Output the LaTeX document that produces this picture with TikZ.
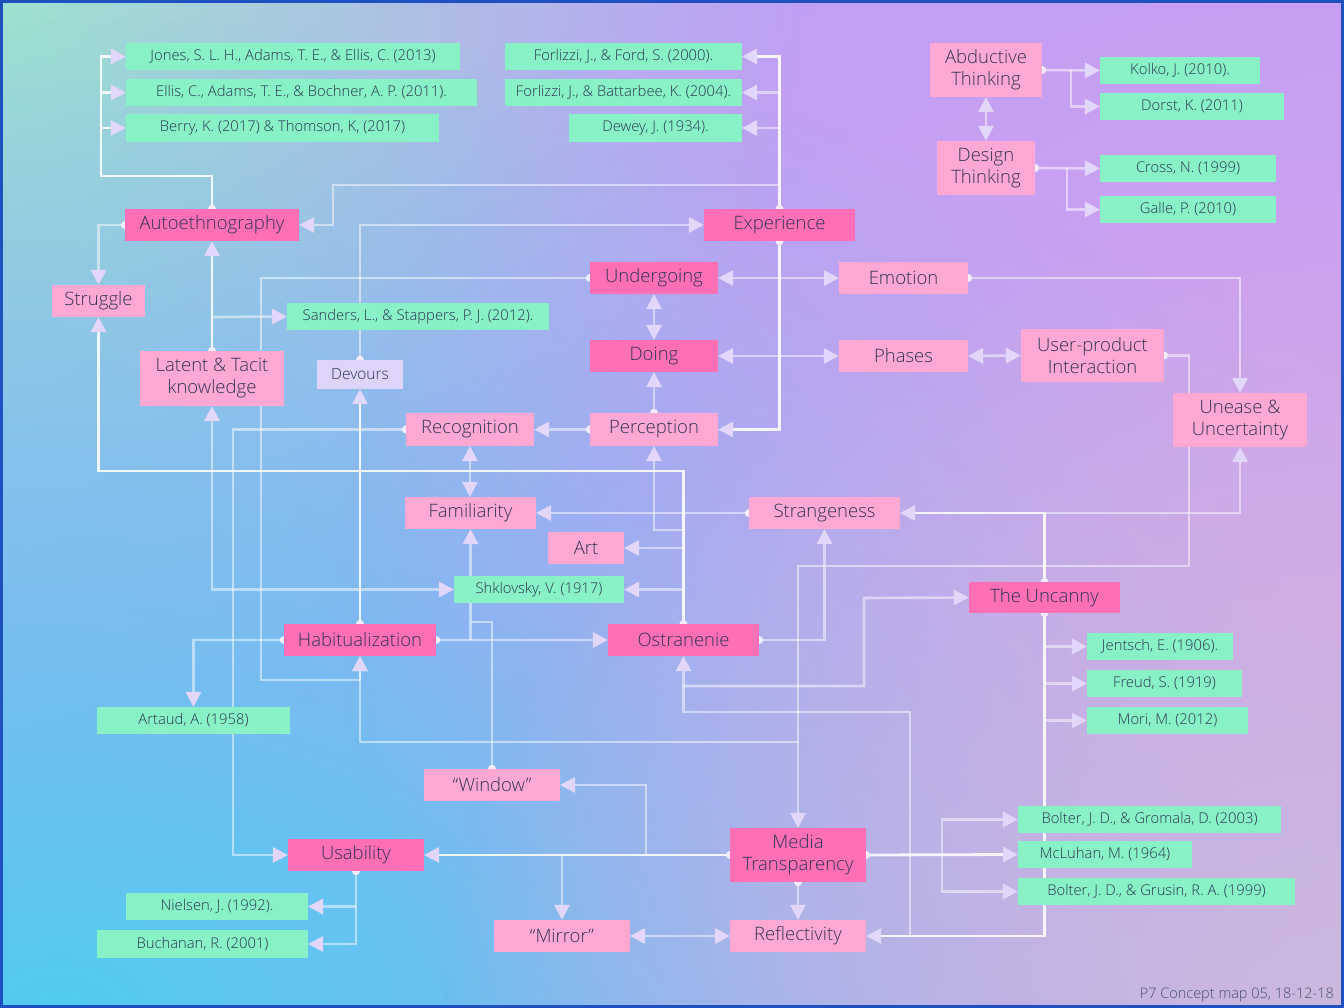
\documentclass[tikz,border=0pt]{standalone}
\usepackage{fontspec}
\setmainfont{Open Sans}[UprightFont=* Light]
\usetikzlibrary{arrows.meta,fadings}
\definecolor{hotp}{HTML}{FF6FB6}
\definecolor{litep}{HTML}{FFA8D4}
\definecolor{refg}{HTML}{88F2C6}
\definecolor{lavb}{HTML}{DED4FA}
\definecolor{txt}{HTML}{2A3552}
\definecolor{tipc}{HTML}{E2D6FA}
\definecolor{dotc}{HTML}{F2ECFF}
\definecolor{basec}{HTML}{BC9FF7}
\definecolor{mintc}{HTML}{9EE2D0}
\definecolor{cyanc}{HTML}{52CBF0}
\definecolor{pinkc}{HTML}{DCA2E8}
\definecolor{brc}{HTML}{CDB8DE}
\definecolor{bordc}{HTML}{1E50C0}
\definecolor{footc}{HTML}{45506A}
\pgfdeclarelayer{bg}\pgfdeclarelayer{edges}\pgfsetlayers{bg,edges,main}
\tikzfading[name=blob, inner color=transparent!0, outer color=transparent!100]
\begin{document}
\begin{tikzpicture}[x=1pt,y=-1pt,
  box/.style={rectangle, inner sep=0pt, text=txt, align=center},
  hot/.style={box, fill=hotp, font=\fontsize{18.5}{22}\selectfont},
  lite/.style={box, fill=litep, font=\fontsize{18.5}{22}\selectfont},
  ref/.style={box, fill=refg, font=\fontsize{14.8}{17}\selectfont},
  ln/.style={draw=white, line width=2.6pt, draw opacity=0.5, fill opacity=1},
  lnb/.style={draw=white, line width=2.8pt, draw opacity=0.88, fill opacity=1},
  tp/.style={-{Triangle[length=15pt,width=16pt,line width=0pt,color=tipc]}},
  dt/.style={{Circle[length=8pt,line width=0pt,color=dotc]}-{Triangle[length=15pt,width=16pt,line width=0pt,color=tipc]}, shorten <=-4pt},
  dn/.style={{Circle[length=8pt,line width=0pt,color=dotc]}-, shorten <=-4pt},
  dd/.style={{Triangle[length=15pt,width=16pt,line width=0pt,color=tipc]}-{Triangle[length=15pt,width=16pt,line width=0pt,color=tipc]}}
]
\useasboundingbox (0,0) rectangle (1344,1008);
\begin{pgfonlayer}{bg}
\fill[basec] (0,0) rectangle (1344,1008);
\begin{scope}
\clip (0,0) rectangle (1344,1008);
\fill[mintc, path fading=blob] (0,0) ellipse [x radius=800, y radius=760];
\fill[cyanc, path fading=blob] (60,1008) ellipse [x radius=1700, y radius=1000];
\fill[pinkc, path fading=blob, fill opacity=0.8] (1344,600) ellipse [x radius=1000, y radius=900];
\fill[brc, path fading=blob] (1344,1008) ellipse [x radius=900, y radius=800];
\end{scope}
\draw[bordc, line width=3pt] (1.5,1.5) rectangle (1342.5,1006.5);
\end{pgfonlayer}

% nodes
\node[ref, minimum width=334pt, minimum height=27pt] (jones) at (293,56.5) {Jones, S. L. H., Adams, T. E., \& Ellis, C. (2013)};
\node[ref, minimum width=351pt, minimum height=27pt] (ellis) at (301.5,92.5) {Ellis, C., Adams, T. E., \& Bochner, A. P. (2011).};
\node[ref, minimum width=313pt, minimum height=28pt] (berry) at (282.5,128) {Berry, K. (2017) \& Thomson, K, (2017)};
\node[hot, minimum width=174pt, minimum height=32pt] (auto) at (212,225) {Autoethnography};
\node[lite, minimum width=93pt, minimum height=32pt] (strug) at (98.5,301) {Struggle};
\node[lite, minimum width=144pt, minimum height=55pt] (latent) at (212,378.5) {Latent \& Tacit\\knowledge};
\node[ref, minimum width=262pt, minimum height=27pt] (sanders) at (418,316.5) {Sanders, L., \& Stappers, P. J. (2012).};
\node[box, fill=lavb, font=\fontsize{15.5}{18}\selectfont, minimum width=86pt, minimum height=29pt] (devours) at (360,374.5) {Devours};
\node[ref, minimum width=237pt, minimum height=27pt] (ford) at (623.5,56.5) {Forlizzi, J., \& Ford, S. (2000).};
\node[ref, minimum width=237pt, minimum height=27pt] (batt) at (623.5,92.5) {Forlizzi, J., \& Battarbee, K. (2004).};
\node[ref, minimum width=173pt, minimum height=28pt] (dewey) at (655.5,128) {Dewey, J. (1934).};
\node[hot, minimum width=151pt, minimum height=32pt] (exp) at (779.5,225) {Experience};
\node[hot, minimum width=128pt, minimum height=32pt] (under) at (654,278) {Undergoing};
\node[lite, minimum width=129pt, minimum height=32pt] (emot) at (903.5,278) {Emotion};
\node[hot, minimum width=128pt, minimum height=32pt] (doing) at (654,356) {Doing};
\node[lite, minimum width=129pt, minimum height=32pt] (phases) at (903.5,356) {Phases};
\node[lite, minimum width=143pt, minimum height=53pt] (upi) at (1092.5,355.5) {User-product\\Interaction};
\node[lite, minimum width=134pt, minimum height=54pt] (unease) at (1240,420) {Unease \&\\Uncertainty};
\node[lite, minimum width=112pt, minimum height=54pt] (abd) at (986,70) {Abductive\\Thinking};
\node[lite, minimum width=98pt, minimum height=54pt] (design) at (986,168) {Design\\Thinking};
\node[ref, minimum width=160pt, minimum height=27pt] (kolko) at (1180,70.5) {Kolko, J. (2010).};
\node[ref, minimum width=184pt, minimum height=27pt] (dorst) at (1192,106.5) {Dorst, K. (2011)};
\node[ref, minimum width=176pt, minimum height=27pt] (cross) at (1188,168.5) {Cross, N. (1999)};
\node[ref, minimum width=176pt, minimum height=27pt] (galle) at (1188,209.5) {Galle, P. (2010)};
\node[lite, minimum width=128pt, minimum height=33pt] (recog) at (470,429.5) {Recognition};
\node[lite, minimum width=128pt, minimum height=33pt] (perc) at (654,429.5) {Perception};
\node[lite, minimum width=131pt, minimum height=32pt] (famil) at (470.5,513) {Familiarity};
\node[lite, minimum width=151pt, minimum height=32pt] (strange) at (824.5,513) {Strangeness};
\node[lite, minimum width=76pt, minimum height=32pt] (art) at (586,548) {Art};
\node[ref, minimum width=170pt, minimum height=27pt] (shk) at (539,589.5) {Shklovsky, V. (1917)};
\node[hot, minimum width=152pt, minimum height=32pt] (hab) at (360,640) {Habitualization};
\node[hot, minimum width=151pt, minimum height=32pt] (ostr) at (683.5,640) {Ostranenie};
\node[hot, minimum width=151pt, minimum height=31pt] (unc) at (1044.5,597.5) {The Uncanny};
\node[ref, minimum width=146pt, minimum height=27pt] (jent) at (1160,646.5) {Jentsch, E. (1906).};
\node[ref, minimum width=155pt, minimum height=27pt] (freud) at (1164.5,683.5) {Freud, S. (1919)};
\node[ref, minimum width=161pt, minimum height=27pt] (mori) at (1167.5,720.5) {Mori, M. (2012)};
\node[ref, minimum width=193pt, minimum height=27pt] (artaud) at (193.5,720.5) {Artaud, A. (1958)};
\node[lite, minimum width=136pt, minimum height=32pt] (window) at (492,785) {“Window”};
\node[hot, minimum width=136pt, minimum height=32pt] (usab) at (356,855) {Usability};
\node[hot, minimum width=136pt, minimum height=54pt] (mt) at (798,855) {Media\\Transparency};
\node[ref, minimum width=182pt, minimum height=27pt] (nielsen) at (217,906.5) {Nielsen, J. (1992).};
\node[ref, minimum width=211pt, minimum height=28pt] (buch) at (202.5,944) {Buchanan, R. (2001)};
\node[lite, minimum width=136pt, minimum height=32pt] (mirror) at (562,936) {“Mirror”};
\node[lite, minimum width=136pt, minimum height=32pt] (refl) at (798,936) {Reflectivity};
\node[ref, minimum width=263pt, minimum height=27pt] (bgrom) at (1149.5,819.5) {Bolter, J. D., \& Gromala, D. (2003)};
\node[ref, minimum width=174pt, minimum height=27pt] (mcl) at (1105,854.5) {McLuhan, M. (1964)};
\node[ref, minimum width=277pt, minimum height=27pt] (bgrus) at (1156.5,891.5) {Bolter, J. D., \& Grusin, R. A. (1999)};
\node[anchor=south east, inner sep=0pt, text=footc, font=\fontsize{14.5}{17}\selectfont] (foot) at (1334,1002) {P7 Concept map 05, 18-12-18};

% connectors
\begin{pgfonlayer}{edges}
\draw[lnb, dt] (auto.north) |- (101,176) |- (jones.west);
\draw[lnb, tp] (101,92.5) -- (ellis.west);
\draw[lnb, tp] (101,128) -- (berry.west);
\draw[lnb, dt] (exp.north) |- (ford.east);
\draw[ln, tp] (779.5,92.5) -- (batt.east);
\draw[ln, tp] (779.5,128) -- (dewey.east);
\draw[ln, tp] (779.5,185) -| (333,225) -- (auto.east);
\draw[ln, dt] (auto.west) -| (strug.north);
\draw[lnb, dt] (exp.south) |- (perc.east);
\draw[ln, dd] (under.east) -- (emot.west);
\draw[ln, dd] (doing.east) -- (phases.west);
\draw[ln, dd] (under.south) -- (doing.north);
\draw[ln, dt] (perc.north) -- (doing.south);
\draw[ln, dt] (perc.west) -- (recog.east);
\draw[ln, dd] (recog.south) -- (recog.south |- famil.north);
\draw[ln, dt] (recog.west) -| (233,855) -- (usab.west);
\draw[ln, dt] (under.west) -| (261,680) -| (hab.south);
\draw[ln, dt] (upi.east) -| (1189,566) -| (mt.north);
\draw[ln, tp] (798,742) -| (hab.south);
\draw[lnb, dt] (ostr.north) |- (98.5,471) -- (strug.south);
\draw[ln, tp] (683.5,548) -- (art.east);
\draw[ln, tp] (683.5,589.5) -- (shk.east);
\draw[ln, tp] (683.5,530) -| (perc.south);
\draw[lnb, dt] (latent.north) -- (auto.south);
\draw[ln, tp] (212,317) -- (sanders.west);
\draw[ln, dd] (latent.south) |- (shk.west);
\draw[lnb, dt] (hab.north) -- (devours.south);
\draw[ln, dt] (devours.north) |- (exp.west);
\draw[ln, dt] (hab.west) -| (artaud.north);
\draw[ln, dt] (hab.east) -- (ostr.west);
\draw[ln, tp] (famil.south |- hab.east) -- (famil.south);
\draw[ln, dn] (window.north) |- (470.5,622);
\draw[ln, dt] (strange.west) -- (famil.east);
\draw[ln, dt] (ostr.east) -| (strange.south);
\draw[lnb, dt] (unc.north) |- (strange.east);
\draw[ln, tp] (1044.5,513) -| (unease.south);
\draw[ln, dt] (emot.east) -| (unease.north);
\draw[ln, dd] (phases.east) -- (upi.west);
\draw[lnb, dt] (unc.south) |- (refl.east);
\draw[ln, tp] (1044.5,646.5) -- (jent.west);
\draw[ln, tp] (1044.5,683.5) -- (freud.west);
\draw[ln, tp] (1044.5,720.5) -- (mori.west);
\draw[ln, tp] (910,936) |- (683.5,712) -- (ostr.south);
\draw[ln, tp] (683.5,686) -| (864,598) -- (unc.west);
\draw[lnb, dt] (mt.west) -- (usab.east);
\draw[ln, tp] (646,855) |- (window.east);
\draw[ln, tp] (562,855) -- (mirror.north);
\draw[ln, dt] (mt.south) -- (refl.north);
\draw[ln, dd] (mirror.east) -- (refl.west);
\draw[lnb, dt] (mt.east) -- (mcl.west);
\draw[ln, tp] (942,854.5) |- (bgrom.west);
\draw[ln, tp] (942,854.5) |- (bgrus.west);
\draw[ln, dt] (usab.south) |- (buch.east);
\draw[ln, tp] (356,906.5) -- (nielsen.east);
\draw[ln, dt] (abd.east) -- (kolko.west);
\draw[ln, tp] (1071,70.5) |- (dorst.west);
\draw[ln, dd] (abd.south) -- (design.north);
\draw[ln, dt] (design.east) -- (cross.west);
\draw[ln, tp] (1067,168.5) |- (galle.west);
\end{pgfonlayer}
\end{tikzpicture}
\end{document}
